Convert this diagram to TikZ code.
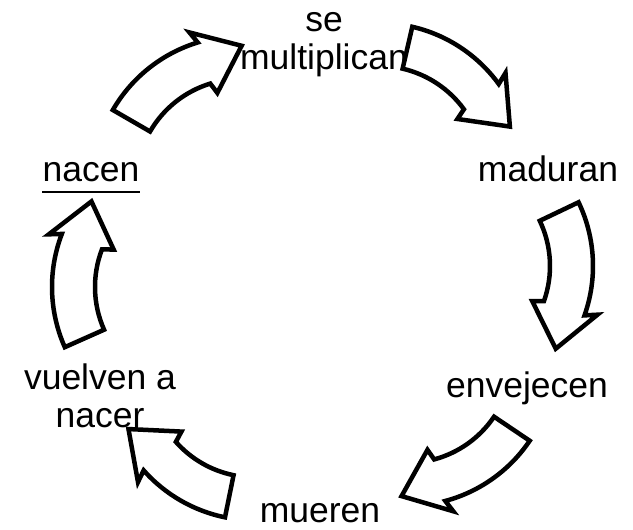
\documentclass[tikz,border=0pt]{standalone}
\usepackage{fontspec}
\setmainfont{Liberation Sans}
\usetikzlibrary{positioning}

% curved block arrow: centre x, centre y, rotation, span of the body
\newcommand{\flecha}[4]{%
  \draw[bloque, shift={(#1,#2)}, rotate=#3]
    (90+#4:148) arc[start angle=90+#4, end angle=90, radius=148]
    -- (-5,160) -- (41,132) -- (4,94) -- (0,105)
    arc[start angle=90, end angle=90+#4, radius=105] -- cycle;}

\begin{document}
\begin{tikzpicture}[x=1pt,y=1pt,
    bloque/.style={draw=black, fill=white, line width=4.5pt, line join=miter},
    etiqueta/.style={font=\fontsize{35.5}{38}\selectfont, inner sep=0pt, align=center, anchor=base}]
    \useasboundingbox (0,0) rectangle (633,530);
    % stages
    \node[etiqueta] (multiplican) at (324,460) {se\\multiplican};
    \node[etiqueta] (nacen) at (91,348) {nacen};
    \node[etiqueta] (maduran) at (548,348) {maduran};
    \node[etiqueta] (envejecen) at (527,132) {envejecen};
    \node[etiqueta] (mueren) at (320,7) {mueren};
    \node[etiqueta] (vuelven) at (100,102) {vuelven a\\nacer};
    \draw[line width=2pt] ([yshift=-10pt]nacen.base west) -- ([yshift=-10pt]nacen.base east);
    % arrows
    \flecha{241}{346}{17}{43}
    \flecha{379}{359}{-54}{41}
    \flecha{445}{264}{-109.5}{45}
    \flecha{407}{172}{-165}{41}
    \flecha{254.5}{157.7}{131.5}{37}
    \flecha{200}{243}{69}{45}
\end{tikzpicture}
\end{document}
